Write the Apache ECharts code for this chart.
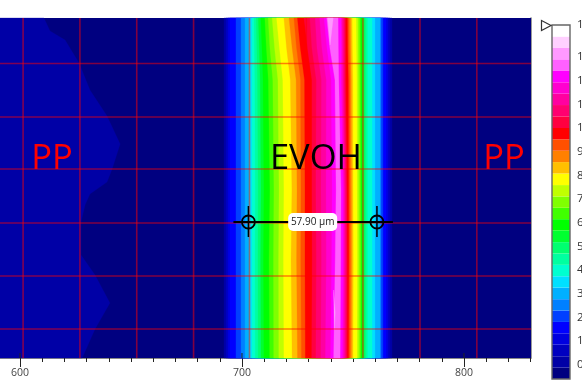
<!DOCTYPE html>
<html><head><meta charset="utf-8">
<style>html,body{margin:0;padding:0;background:#fff}#c{width:582px;height:388px}</style>
<script src="https://cdn.jsdelivr.net/npm/echarts@6/dist/echarts.min.js"></script>
</head><body><div id="c"></div>
<script>
var levelColors=['#000080','#0000a6','#0000c0','#0000e0','#0000ff','#0040ff','#0080ff','#00b0ff','#00e0ff','#00ffd0','#00ffa0','#00ff70','#00ff30','#00ff00','#40ff00','#80ff00','#c0ff00','#ffff00','#ffc000','#ff8000','#ff5000','#ff0000','#ff0040','#ff0070','#ff00a0','#ff00d0','#ff00ff','#ff60ff','#ff99ff','#ffd0ff','#ffffff'];
var levelEdges=[-0.6,-0.12,0.36,0.85,1.33,1.81,2.29,2.77,3.26,3.74,4.22,4.7,5.18,5.67,6.15,6.63,7.11,7.59,8.08,8.56,9.04,9.52,10,10.49,10.97,11.45,11.93,12.41,12.9,13.38,13.86,14.35];
var barTicks=[0,1,2,3,4,5,6,7,8,9,10,11,12,13,14.35];
var barTickLabels=['0','1','2','3','4','5','6','7','8','9','10','11','12','13','14'];

var rowDepth=[0,30,62,172,242,340];
// rising edge of levels 1..27, per row
var rise0=[691.9,692.8,693.7,694.6,697.3,699.6,701.4,703.2,704.5,705.4,706.4,707.4,708.5,710.3,711.8,713.6,715.6,718.9,721.2,723.4,725,728,730.6,733,735,737,738.2];
var rise1=[691.9,692.8,693.7,694.6,697.3,699.6,701.4,703.2,704.5,705.6,706.7,707.8,709,711,712.6,714.7,716.9,720.1,722.6,724.6,726.3,729.5,731.5,733.8,736,738.3,739.6];
var rise2=[691.9,692.8,693.7,694.6,697.3,699.6,701.4,703.2,704.5,705.8,707,708.2,709.5,711.9,713.9,716.2,718.4,721.8,724.4,726.4,728.2,731.5,733.5,735.8,738,740.2,741.9];
var rise3=[691.9,692.8,693.7,694.6,697.3,699.6,701.4,703.2,704.5,706,707.3,708.6,709.9,712.6,714.4,716.7,718.9,722.5,724.8,726.6,728.4,731.5,733.3,735.6,737.9,740.6,742.4];
var rise4=[691.9,692.8,693.7,694.6,697.3,699.6,701.4,703.2,704.5,705.9,707.2,708.4,709.7,712.2,714.2,716.5,718.7,722.1,724.6,726.5,728.4,731.6,733.5,735.8,738,740.4,742];
var rise5=[691.9,692.8,693.7,694.6,697.3,699.6,701.4,703.2,704.5,706,707.3,708.6,709.9,712.5,714.3,716.6,718.9,722.6,725,726.8,728.6,731.4,733.3,735.5,737.6,739.9,741.3];
// falling edge of levels 27..1, per row
var fall0=[743.3,744.6,745,745.6,746.1,746.6,747.5,748.2,748.9,749.6,751.4,752.2,752.9,753.4,754.3,755,755.6,756.5,758.6,759.9,762.2,762.6,763.5,764.9,765.8,766.7,767.6];
var fall1=[743.4,744.7,745.2,745.7,746.2,746.7,747.6,748.3,749,749.7,751.5,752.3,753,753.5,754.3,755,755.6,756.5,758.6,759.9,762.2,762.6,763.5,764.9,765.8,766.7,767.6];
var fall2=[743.6,744.6,745.2,745.7,746.2,746.7,747.9,748.6,749.2,749.9,751.7,752.4,753.1,753.5,754.3,755,755.6,756.5,758.6,759.9,762.2,762.6,763.5,764.9,765.8,766.7,767.6];
var fall3=[744.6,745.5,746,746.4,746.9,747.3,748,748.7,749.3,750,751.8,752.5,753.2,753.6,754.3,755,755.6,756.5,758.6,759.9,762.2,762.6,763.5,764.9,765.8,766.7,767.6];
var fall4=[744.5,745.5,746,746.5,747,747.4,748.1,748.8,749.4,750.1,751.9,752.6,753.3,753.7,754.3,755,755.6,756.5,758.6,759.9,762.2,762.6,763.5,764.9,765.8,766.7,767.6];
var fall5=[744.2,745.2,745.8,746.4,746.9,747.4,748,748.7,749.3,750,751.8,752.5,753.2,753.6,754.3,755,755.6,756.5,758.6,759.9,762.2,762.6,763.5,764.9,765.8,766.7,767.6];

// the pale level-1 patch on the left of the section
var patchX=[591,610.8,613.5,620.3,626.6,631.5,639.2,645.1,641.5,639.2,631.5,629.3,627.5,627.5,633.8,640.5,633.8,628];
var patchDepth=[0,0,13,22,45,72,98,126,151,164,176,187,204,237,257,285,311,340];
// lightest slivers near the peak
var sliverX=[738.6,741.1,739.7];
var sliverDepth=[0,0,27];
var sliver2X=[741.3,742,741.6];
var sliver2Depth=[272,295,312];

var gridX=[601.4,627,652.6,678.2,703.4,729,754.5,780.2,805.8];
var gridDepth=[45.5,99,151,205,258,311];
var measureX=[702.9,760.8], measureDepth=204, measureText='57.90 µm';
var regionNames=['PP','EVOH','PP'], regionColors=['#ff0000','#000000','#ff0000'], regionX=[614.4,733.3,818], regionDepth=141;
var minorTicks=[600,610,620,630,640,650,660,670,680,690,700,710,720,730,740,750,760,770,780,790,800,810,820,830];
var majorTicks=[600,700,800];
var FONT='"Open Sans"';

var rises=[rise0,rise1,rise2,rise3,rise4,rise5], falls=[fall0,fall1,fall2,fall3,fall4,fall5];
function poly(fill,pts){return {type:'polygon',shape:{points:pts},style:{fill:fill,stroke:fill,lineWidth:0.3}};}
function seg(p,q,color,w){return {type:'line',shape:{x1:p[0],y1:p[1],x2:q[0],y2:q[1]},style:{stroke:color,lineWidth:w}};}

function renderField(params,api){
  var kids=[];
  var tl=api.coord([591,0]),br=api.coord([830.2,340]);
  kids.push({type:'rect',shape:{x:tl[0],y:tl[1],width:br[0]-tl[0],height:br[1]-tl[1]},style:{fill:levelColors[0]}});
  var p=[];patchX.forEach(function(x,i){p.push(api.coord([x,patchDepth[i]]));});
  p.push(api.coord([591,340]));
  kids.push(poly(levelColors[1],p));
  for(var lv=1;lv<=27;lv++){
    var pts=[];
    for(var r=0;r<rowDepth.length;r++)pts.push(api.coord([rises[r][lv-1],rowDepth[r]]));
    for(r=rowDepth.length-1;r>=0;r--)pts.push(api.coord([falls[r][27-lv],rowDepth[r]]));
    kids.push(poly(levelColors[lv],pts));
  }
  [[sliverX,sliverDepth],[sliver2X,sliver2Depth]].forEach(function(s){
    kids.push(poly(levelColors[28],s[0].map(function(x,i){return api.coord([x,s[1][i]]);})));
  });
  return {type:'group',children:kids};
}
function renderOverlay(params,api){
  var kids=[];
  gridX.forEach(function(x){kids.push(seg(api.coord([x,0]),api.coord([x,340]),'rgba(255,0,0,0.5)',1.6));});
  gridDepth.forEach(function(d){kids.push(seg(api.coord([591,d]),api.coord([830.2,d]),'rgba(255,0,0,0.5)',1.6));});
  majorTicks.forEach(function(t){var b=api.coord([t,340]);kids.push(seg([b[0],b[1]-5],b,'#222',1));});
  var a=api.coord([measureX[0],measureDepth]),b=api.coord([measureX[1],measureDepth]);
  kids.push(seg([a[0]-15,a[1]],[b[0]+16,b[1]],'#000',2));
  [a,b].forEach(function(c){
    kids.push(seg([c[0],c[1]-16],[c[0],c[1]+15],'#000',1.5));
    kids.push({type:'circle',shape:{cx:c[0],cy:c[1],r:6.5},style:{fill:'none',stroke:'#000',lineWidth:1.8}});
  });
  var mid=api.coord([(measureX[0]+measureX[1])/2,measureDepth]);
  kids.push({type:'rect',shape:{x:mid[0]-24.5,y:mid[1]-9,width:49,height:18,r:5},style:{fill:'#fff'}});
  kids.push({type:'text',x:mid[0],y:mid[1],style:{text:measureText,fill:'#222',font:'10px '+FONT,align:'center',verticalAlign:'middle'}});
  regionNames.forEach(function(n,i){
    var c=api.coord([regionX[i],regionDepth]);
    kids.push({type:'text',x:c[0],y:c[1],style:{text:n,fill:regionColors[i],font:'34.5px '+FONT,align:'center',verticalAlign:'middle'}});
  });
  return {type:'group',children:kids};
}
function renderBar(params,api){
  var kids=[];
  levelColors.forEach(function(col,i){
    var t=api.coord([0,levelEdges[i+1]]),b=api.coord([1,levelEdges[i]]);
    kids.push({type:'rect',shape:{x:t[0],y:t[1],width:b[0]-t[0],height:b[1]-t[1]},style:{fill:col}});
  });
  var tl=api.coord([0,14.35]),br=api.coord([1,-0.6]);
  kids.push({type:'rect',shape:{x:tl[0],y:tl[1],width:br[0]-tl[0],height:br[1]-tl[1]},style:{fill:'none',stroke:'#666',lineWidth:1.4}});
  kids.push({type:'polygon',shape:{points:[[tl[0]-10.5,tl[1]-4.5],[tl[0]-1,tl[1]+0.5],[tl[0]-10.5,tl[1]+5.5]]},style:{fill:'#fff',stroke:'#333',lineWidth:1.2}});
  return {type:'group',children:kids};
}
var chart=echarts.init(document.getElementById('c'),null,{renderer:'canvas'});
chart.setOption({
  animation:false,
  backgroundColor:'#fff',
  grid:[{left:0,right:51,top:18,bottom:30,outerBoundsMode:'none'},{left:552,width:18,top:25,height:354,outerBoundsMode:'none'}],
  xAxis:[
    {gridIndex:0,type:'value',min:591,max:830.2,position:'bottom',splitLine:{show:false},
     axisLine:{show:true,onZero:false,lineStyle:{color:'#888',width:1}},
     axisTick:{show:true,length:4,customValues:minorTicks,lineStyle:{color:'#222',width:1}},
     axisLabel:{show:false}},
    {gridIndex:0,type:'value',min:591,max:830.2,position:'bottom',splitLine:{show:false},
     axisLine:{show:false,onZero:false},
     axisTick:{show:true,length:9,customValues:majorTicks,lineStyle:{color:'#222',width:1}},
     axisLabel:{show:true,customValues:majorTicks,margin:10,fontSize:10.5,color:'#444',fontFamily:FONT,formatter:function(v){return String(v);}}},
    {gridIndex:1,type:'value',min:0,max:1,show:false}
  ],
  yAxis:[
    {gridIndex:0,type:'value',min:0,max:340,inverse:true,position:'right',splitLine:{show:false},
     axisLine:{show:true,onZero:false,lineStyle:{color:'#777',width:1.5}},axisTick:{show:false},axisLabel:{show:false}},
    {gridIndex:1,type:'value',min:-0.6,max:14.35,position:'right',splitLine:{show:false},
     axisLine:{show:false,onZero:false},axisTick:{show:false},
     axisLabel:{show:true,customValues:barTicks,margin:7,fontSize:11.5,color:'#333',fontFamily:FONT,align:'left',
       showMinLabel:true,showMaxLabel:true,hideOverlap:false,
       formatter:function(v){var i=barTicks.indexOf(v);return i<0?'':barTickLabels[i];}}}
  ],
  series:[
    {type:'custom',xAxisIndex:0,yAxisIndex:0,data:[[0,0]],renderItem:renderField,silent:true,z:1},
    {type:'custom',xAxisIndex:0,yAxisIndex:0,data:[[0,0]],renderItem:renderOverlay,silent:true,z:2},
    {type:'custom',xAxisIndex:2,yAxisIndex:1,data:[[0,0]],renderItem:renderBar,silent:true,z:3,clip:false}
  ]
});
</script></body></html>
